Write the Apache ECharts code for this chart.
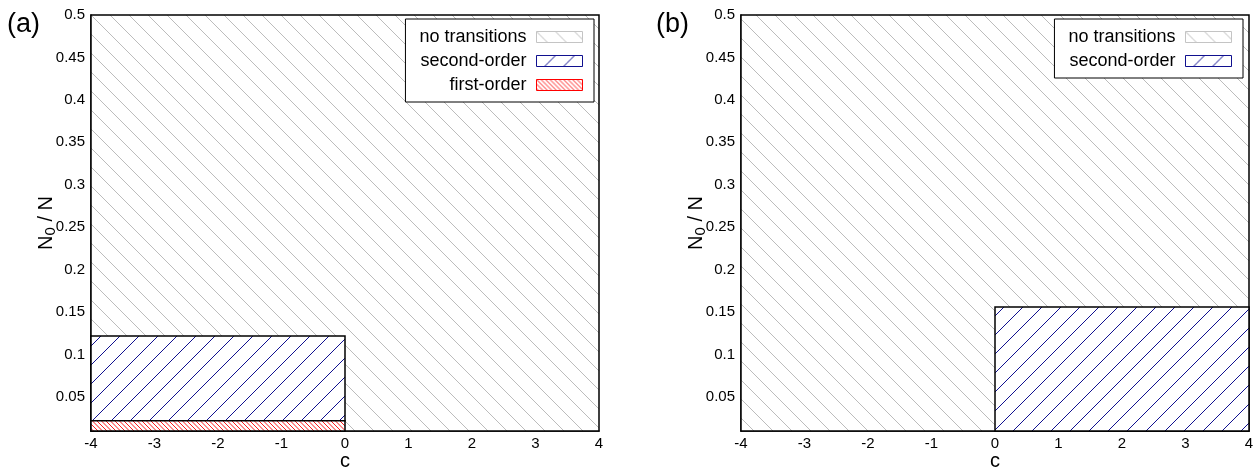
<!DOCTYPE html>
<html>
<head>
<meta charset="utf-8">
<script src="https://cdn.jsdelivr.net/npm/echarts@6/dist/echarts.min.js"></script>
<style>
html,body{margin:0;padding:0;background:#fff;}
#chart{width:1254px;height:471px;}
</style>
</head>
<body>
<div id="chart"></div>
<script>
// ---- data ----
const panelLabels = ['(a)', '(b)'];
const seriesNames = ['no transitions', 'second-order', 'first-order'];
const xRange = [-4, 4];
const yRange = [0.01, 0.5];
const yTicks = [0.05, 0.1, 0.15, 0.2, 0.25, 0.3, 0.35, 0.4, 0.45, 0.5];
// regions: [xStart, xEnd, yStart, yEnd]
const aNoTransitions = [[-4, 4, 0.01, 0.5]];
const aSecondOrder = [[-4, 0, 0.022, 0.122]];
const aFirstOrder = [[-4, 0, 0.01, 0.022]];
const bNoTransitions = [[-4, 4, 0.01, 0.5]];
const bSecondOrder = [[0, 4, 0.01, 0.156]];

// ---- hatch patterns ----
function hatch(size, n, color, dir, lw) {
  const c = document.createElement('canvas');
  c.width = size; c.height = size;
  const g = c.getContext('2d');
  g.fillStyle = '#fff';
  g.fillRect(0, 0, size, size);
  g.strokeStyle = color;
  g.lineWidth = lw;
  g.beginPath();
  const step = size / n;
  for (let k = -n - 1; k <= n + 1; k++) {
    const o = k * step;
    if (dir === 'back') { g.moveTo(o, 0); g.lineTo(o + size, size); }
    else { g.moveTo(o, size); g.lineTo(o + size, 0); }
  }
  g.stroke();
  return c;
}
const grayPat = { image: hatch(19, 1, '#bcbcbc', 'back', 1), repeat: 'repeat' };
const bluePat = { image: hatch(19, 1, '#10108f', 'fwd', 1), repeat: 'repeat' };
const redPat = { image: hatch(9, 2, '#ff1a1a', 'back', 1), repeat: 'repeat' };

function makeRender(fill, stroke, lw) {
  return function (params, api) {
    const p0 = api.coord([api.value(0), api.value(3)]);
    const p1 = api.coord([api.value(1), api.value(2)]);
    return {
      type: 'rect',
      shape: { x: p0[0], y: p0[1], width: p1[0] - p0[0], height: p1[1] - p0[1] },
      style: { fill: fill, stroke: stroke, lineWidth: lw }
    };
  };
}

const font = "'Liberation Sans', Arial, sans-serif";
const grids = [
  { left: 91, right: 655, top: 15, bottom: 40, outerBoundsMode: 'none', containLabel: false },
  { left: 741, right: 5, top: 15, bottom: 40, outerBoundsMode: 'none', containLabel: false }
];

function xAxis(i) {
  return {
    gridIndex: i, type: 'value', min: xRange[0], max: xRange[1], interval: 1,
    name: 'c', nameLocation: 'middle', nameGap: 20, nameMoveOverlap: false,
    nameTextStyle: { fontSize: 20, color: '#000', fontFamily: font },
    axisLine: { show: true, onZero: false, lineStyle: { color: '#000', width: 1.5 } },
    axisTick: { show: false },
    splitLine: { show: false },
    axisLabel: { color: '#000', fontSize: 15, fontFamily: font, margin: 5 }
  };
}
function yAxis(i) {
  return {
    gridIndex: i, type: 'value', min: yRange[0], max: yRange[1],
    name: '{n|N}{s|0}{n| / N}', nameLocation: 'middle', nameGap: 33, nameMoveOverlap: false,
    nameTextStyle: {
      color: '#000', fontFamily: font,
      rich: {
        n: { fontSize: 20, color: '#000', fontFamily: font },
        s: { fontSize: 15, color: '#000', fontFamily: font, padding: [9, 0, 0, 0] }
      }
    },
    axisLine: { show: true, onZero: false, lineStyle: { color: '#000', width: 1.5 } },
    axisTick: { show: false },
    splitLine: { show: false },
    axisLabel: { color: '#000', fontSize: 15, fontFamily: font, margin: 6, customValues: yTicks }
  };
}

function region(name, data, gi, fill) {
  return {
    type: 'custom', name: name, xAxisIndex: gi, yAxisIndex: gi,
    data: data, encode: { x: [0, 1], y: [2, 3] },
    itemStyle: { color: fill },
    renderItem: makeRender(fill, '#000', 1.5),
    silent: true, animation: false
  };
}

function legendItems(names) {
  const st = {
    'no transitions': { color: grayPat, borderColor: '#c4c4c4', borderWidth: 1 },
    'second-order': { color: bluePat, borderColor: '#10108f', borderWidth: 1 },
    'first-order': { color: redPat, borderColor: '#ff0000', borderWidth: 1 }
  };
  return names.map(n => ({ name: n, icon: 'rect', itemStyle: st[n] }));
}
function legend(names, right) {
  return {
    orient: 'vertical', align: 'right', right: right, top: 19,
    itemWidth: 46, itemHeight: 11, itemGap: 6,
    padding: [9, 11, 8, 14],
    borderColor: '#000', borderWidth: 1, backgroundColor: '#fff',
    selectedMode: false,
    textStyle: { fontSize: 18, color: '#000', fontFamily: font, padding: [0, 5, 0, 0] },
    data: legendItems(names)
  };
}

const chart = echarts.init(document.getElementById('chart'), null, { renderer: 'canvas' });
chart.setOption({
  animation: false,
  backgroundColor: '#fff',
  title: [
    { text: panelLabels[0], left: 7, top: 11, padding: 0, textStyle: { fontSize: 27, fontWeight: 'normal', color: '#000', fontFamily: font } },
    { text: panelLabels[1], left: 656, top: 11, padding: 0, textStyle: { fontSize: 27, fontWeight: 'normal', color: '#000', fontFamily: font } }
  ],
  grid: grids,
  xAxis: [xAxis(0), xAxis(1)],
  yAxis: [yAxis(0), yAxis(1)],
  legend: [
    legend([seriesNames[0], seriesNames[1], seriesNames[2]], 660),
    legend([seriesNames[0], seriesNames[1]], 11)
  ],
  series: [
    region(seriesNames[0], aNoTransitions, 0, grayPat),
    region(seriesNames[1], aSecondOrder, 0, bluePat),
    region(seriesNames[2], aFirstOrder, 0, redPat),
    region(seriesNames[0], bNoTransitions, 1, grayPat),
    region(seriesNames[1], bSecondOrder, 1, bluePat)
  ]
});
</script>
</body>
</html>
